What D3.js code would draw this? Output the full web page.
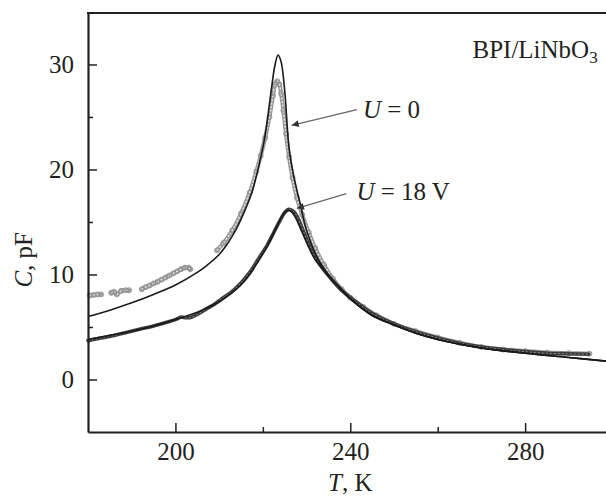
<!DOCTYPE html>
<html>
<head>
<meta charset="utf-8">
<script src="https://cdn.jsdelivr.net/npm/d3@7"></script>
<style>
  body { margin: 0; background: #fff; }
  svg { display: block; }
  text { font-family: "Liberation Serif", "Times New Roman", serif; fill: #231f20; }
</style>
</head>
<body>
<script>
// fit curves (solid lines)
var fitT0  = [180, 185, 190, 195, 200, 205, 207, 210, 212, 214, 216, 217.5, 219, 220.5, 222, 222.8, 223.5, 224.2, 225, 226, 227, 228.5, 230, 232, 234, 236, 237, 240, 245, 250, 255, 260, 270, 280, 290, 298.5];
var fitC0  = [6.0, 6.6, 7.3, 8.1, 9.0, 10.2, 10.8, 11.9, 13.0, 14.4, 16.2, 17.8, 20.2, 23.2, 27.8, 30.0, 30.9, 30.2, 27.5, 22.0, 19.5, 16.8, 14.2, 12.0, 10.5, 9.4, 9.0, 7.7, 6.1, 5.2, 4.4, 3.8, 3.0, 2.5, 2.1, 1.75];
var fitT18 = [180, 185, 190, 195, 200, 205, 210, 213, 215, 217, 219, 221, 223, 224.5, 225.5, 226.5, 227.5, 229, 230.5, 232, 234, 236, 237, 240, 245, 250, 255, 260, 270, 280, 290, 298.5];
var fitC18 = [3.8, 4.2, 4.6, 5.1, 5.7, 6.4, 7.4, 8.3, 9.0, 10.0, 11.3, 12.7, 14.4, 15.6, 16.1, 16.0, 15.4, 14.0, 12.6, 11.4, 10.4, 9.4, 9.0, 7.7, 6.1, 5.2, 4.4, 3.8, 3.0, 2.5, 2.1, 1.75];

// measured points (null = gap in the record)
var dataT0 = [180.4, 181.3, 182.2, 183.0, null, 185.3, 186.0, 186.6, 187.6, 188.6, 189.4, null,
  192.3, 193.2, 194.1, 195.0, 195.9, 196.8, 197.7, 198.6, 199.5, 200.4, 201.3, 202.2, 203.0, 203.4, null,
  209.5, 211, 213, 215, 217, 218.5, 219.5, 220.5, 221.5, 222.3, 222.8, 223.3, 223.8, 224.2, 224.7, 225.3, 226, 226.8, 227.8, 229, 230.5,
  232, 234, 236, 238, 240, 243, 246, 250, 255, 260, 265, 270, 275, 280, 285, 290, 294.7];
var dataC0 = [8.0, 8.05, 8.1, 8.1, null, 8.25, 8.35, 8.1, 8.45, 8.5, 8.5, null,
  8.6, 8.8, 8.95, 9.15, 9.3, 9.5, 9.7, 9.9, 10.1, 10.3, 10.5, 10.65, 10.65, 10.5, null,
  12.3, 13.0, 14.2, 15.8, 17.8, 19.8, 21.3, 23.0, 25.0, 27.0, 28.1, 28.4, 28.1, 27.2, 25.6, 23.4, 21.2, 19.2, 17.3, 15.7, 14.0,
  12.5, 10.9, 9.6, 8.6, 7.8, 6.9, 6.1, 5.3, 4.6, 4.0, 3.5, 3.1, 2.85, 2.7, 2.55, 2.5, 2.45];
var dataT18 = [180, 183, 186, 189, 192, 195, 198, 200, 201.3, 202, 203.5, 205, 207, 209, 211, 213, 215, 217, 219, 221, 222.5, 224, 225, 226, 227, 228, 229, 230.5,
  232, 234, 236, 238, 240, 245, 250, 255, 260, 265, 270, 275, 280, 285, 290, 294.5];
var dataC18 = [3.7, 3.95, 4.2, 4.5, 4.8, 5.1, 5.45, 5.7, 5.95, 5.9, 5.9, 6.2, 6.7, 7.2, 7.8, 8.4, 9.2, 10.2, 11.5, 12.8, 14.0, 15.2, 15.9, 16.2, 16.0, 15.4, 14.4, 12.9,
  11.6, 10.4, 9.4, 8.5, 7.8, 6.3, 5.3, 4.55, 3.95, 3.45, 3.1, 2.85, 2.65, 2.5, 2.45, 2.4];

var xTicks = [200, 240, 280];
var xMinor = [220, 260];
var yTicks = [0, 10, 20, 30];
var yMinor = [5, 15, 25];

var width = 606, height = 496;
var ink = "#231f20";

var svg = d3.select("body").append("svg")
  .attr("width", width)
  .attr("height", height);

var x = d3.scaleLinear().domain([180, 298.5]).range([88, 606]);
var y = d3.scaleLinear().domain([-5, 34.9]).range([432, 13]);

function pairs(ts, cs) {
  return ts.map(function(t, i) { return [t, cs[i]]; });
}
var line = d3.line()
  .defined(function(d) { return d[0] != null && d[1] != null; })
  .x(function(d) { return x(d[0]); })
  .y(function(d) { return y(d[1]); })
  .curve(d3.curveCatmullRom);

var u0 = pairs(dataT0, dataC0);
var u18 = pairs(dataT18, dataC18);

// U = 0 measured: grey band of open circles
svg.append("path").attr("d", line(u0))
  .attr("fill", "none").attr("stroke", "#9a9a9a").attr("stroke-width", 4.2)
  .attr("stroke-linecap", "round");
svg.append("path").attr("d", line(u0))
  .attr("fill", "none").attr("stroke", "#e6e6e6").attr("stroke-width", 1.4)
  .attr("stroke-dasharray", "2 1.5");
svg.append("g").selectAll("circle")
  .data(u0.filter(function(d) { return d[0] != null; }))
  .enter().append("circle")
  .attr("cx", function(d) { return x(d[0]); })
  .attr("cy", function(d) { return y(d[1]); })
  .attr("r", 2.5)
  .attr("fill", "none")
  .attr("stroke", "#8c8c8c")
  .attr("stroke-width", 0.9);

// U = 18 V measured: dark band
svg.append("path").attr("d", line(u18))
  .attr("fill", "none").attr("stroke", "#3c3c3c").attr("stroke-width", 3.6)
  .attr("stroke-linecap", "round");
svg.append("path").attr("d", line(u18))
  .attr("fill", "none").attr("stroke", "#9a9a9a").attr("stroke-width", 1)
  .attr("stroke-dasharray", "1.5 2.5");

// fits
svg.append("path").attr("d", line(pairs(fitT0, fitC0)))
  .attr("fill", "none").attr("stroke", "#1a1a1a").attr("stroke-width", 1.6);
svg.append("path").attr("d", line(pairs(fitT18, fitC18)))
  .attr("fill", "none").attr("stroke", "#1a1a1a").attr("stroke-width", 1.6);

// axes
function styleAxis(g) {
  g.select(".domain").attr("stroke", ink).attr("stroke-width", 2.2);
  g.selectAll(".tick line").attr("stroke", ink).attr("stroke-width", 1.5);
  g.selectAll(".tick text").attr("font-size", 25).attr("fill", ink)
    .attr("font-family", '"Liberation Serif", "Times New Roman", serif');
}
var gx = svg.append("g").attr("transform", "translate(0," + y(-5) + ")")
  .call(d3.axisBottom(x).tickValues(xTicks).tickSizeInner(-9).tickSizeOuter(0).tickPadding(10).tickFormat(d3.format("d")));
styleAxis(gx);
var gxm = svg.append("g").attr("transform", "translate(0," + y(-5) + ")")
  .call(d3.axisBottom(x).tickValues(xMinor).tickSizeInner(-5).tickSizeOuter(0).tickFormat(""));
gxm.select(".domain").remove();
styleAxis(gxm);

var gy = svg.append("g").attr("transform", "translate(" + x(180) + ",0)")
  .call(d3.axisLeft(y).tickValues(yTicks).tickSizeInner(-9).tickSizeOuter(0).tickPadding(14).tickFormat(d3.format("d")));
styleAxis(gy);
var gym = svg.append("g").attr("transform", "translate(" + x(180) + ",0)")
  .call(d3.axisLeft(y).tickValues(yMinor).tickSizeInner(-5).tickSizeOuter(0).tickFormat(""));
gym.select(".domain").remove();
styleAxis(gym);

// top frame
svg.append("line")
  .attr("x1", x(180) - 1).attr("x2", x(298.5))
  .attr("y1", y(34.9)).attr("y2", y(34.9))
  .attr("stroke", ink).attr("stroke-width", 2.2);

// axis titles
var xt = svg.append("text").attr("x", x(240)).attr("y", 491)
  .attr("text-anchor", "middle").attr("font-size", 25);
xt.append("tspan").attr("font-style", "italic").text("T");
xt.append("tspan").text(", K");

var yt = svg.append("text")
  .attr("transform", "translate(32," + y(11.4) + ") rotate(-90)")
  .attr("text-anchor", "middle").attr("font-size", 25);
yt.append("tspan").attr("font-style", "italic").text("C");
yt.append("tspan").text(", pF");

// annotations
svg.append("defs").append("marker")
  .attr("id", "arr").attr("viewBox", "0 0 10 10")
  .attr("refX", 10).attr("refY", 5)
  .attr("markerWidth", 12).attr("markerHeight", 7)
  .attr("markerUnits", "userSpaceOnUse")
  .attr("orient", "auto")
  .append("path").attr("d", "M0,0L10,5L0,10Z").attr("fill", "#333");

svg.append("line")
  .attr("x1", x(241.5)).attr("y1", y(25.7))
  .attr("x2", x(226.6)).attr("y2", y(24.2))
  .attr("stroke", "#666").attr("stroke-width", 1.2)
  .attr("marker-end", "url(#arr)");
svg.append("line")
  .attr("x1", x(239.1)).attr("y1", y(17.7))
  .attr("x2", x(227.8)).attr("y2", y(16.3))
  .attr("stroke", "#666").attr("stroke-width", 1.2)
  .attr("marker-end", "url(#arr)");

var l0 = svg.append("text").attr("x", x(242.9)).attr("y", y(24.9)).attr("font-size", 25);
l0.append("tspan").attr("font-style", "italic").text("U");
l0.append("tspan").text(" = 0");

var l18 = svg.append("text").attr("x", x(241.4)).attr("y", y(17.1)).attr("font-size", 25);
l18.append("tspan").attr("font-style", "italic").text("U");
l18.append("tspan").text(" = 18 V");

var lt = svg.append("text").attr("x", x(296.6)).attr("y", y(30.6))
  .attr("text-anchor", "end").attr("font-size", 25);
lt.append("tspan").text("BPI/LiNbO");
lt.append("tspan").attr("font-size", 17).attr("dy", 5).text("3");
</script>
</body>
</html>
